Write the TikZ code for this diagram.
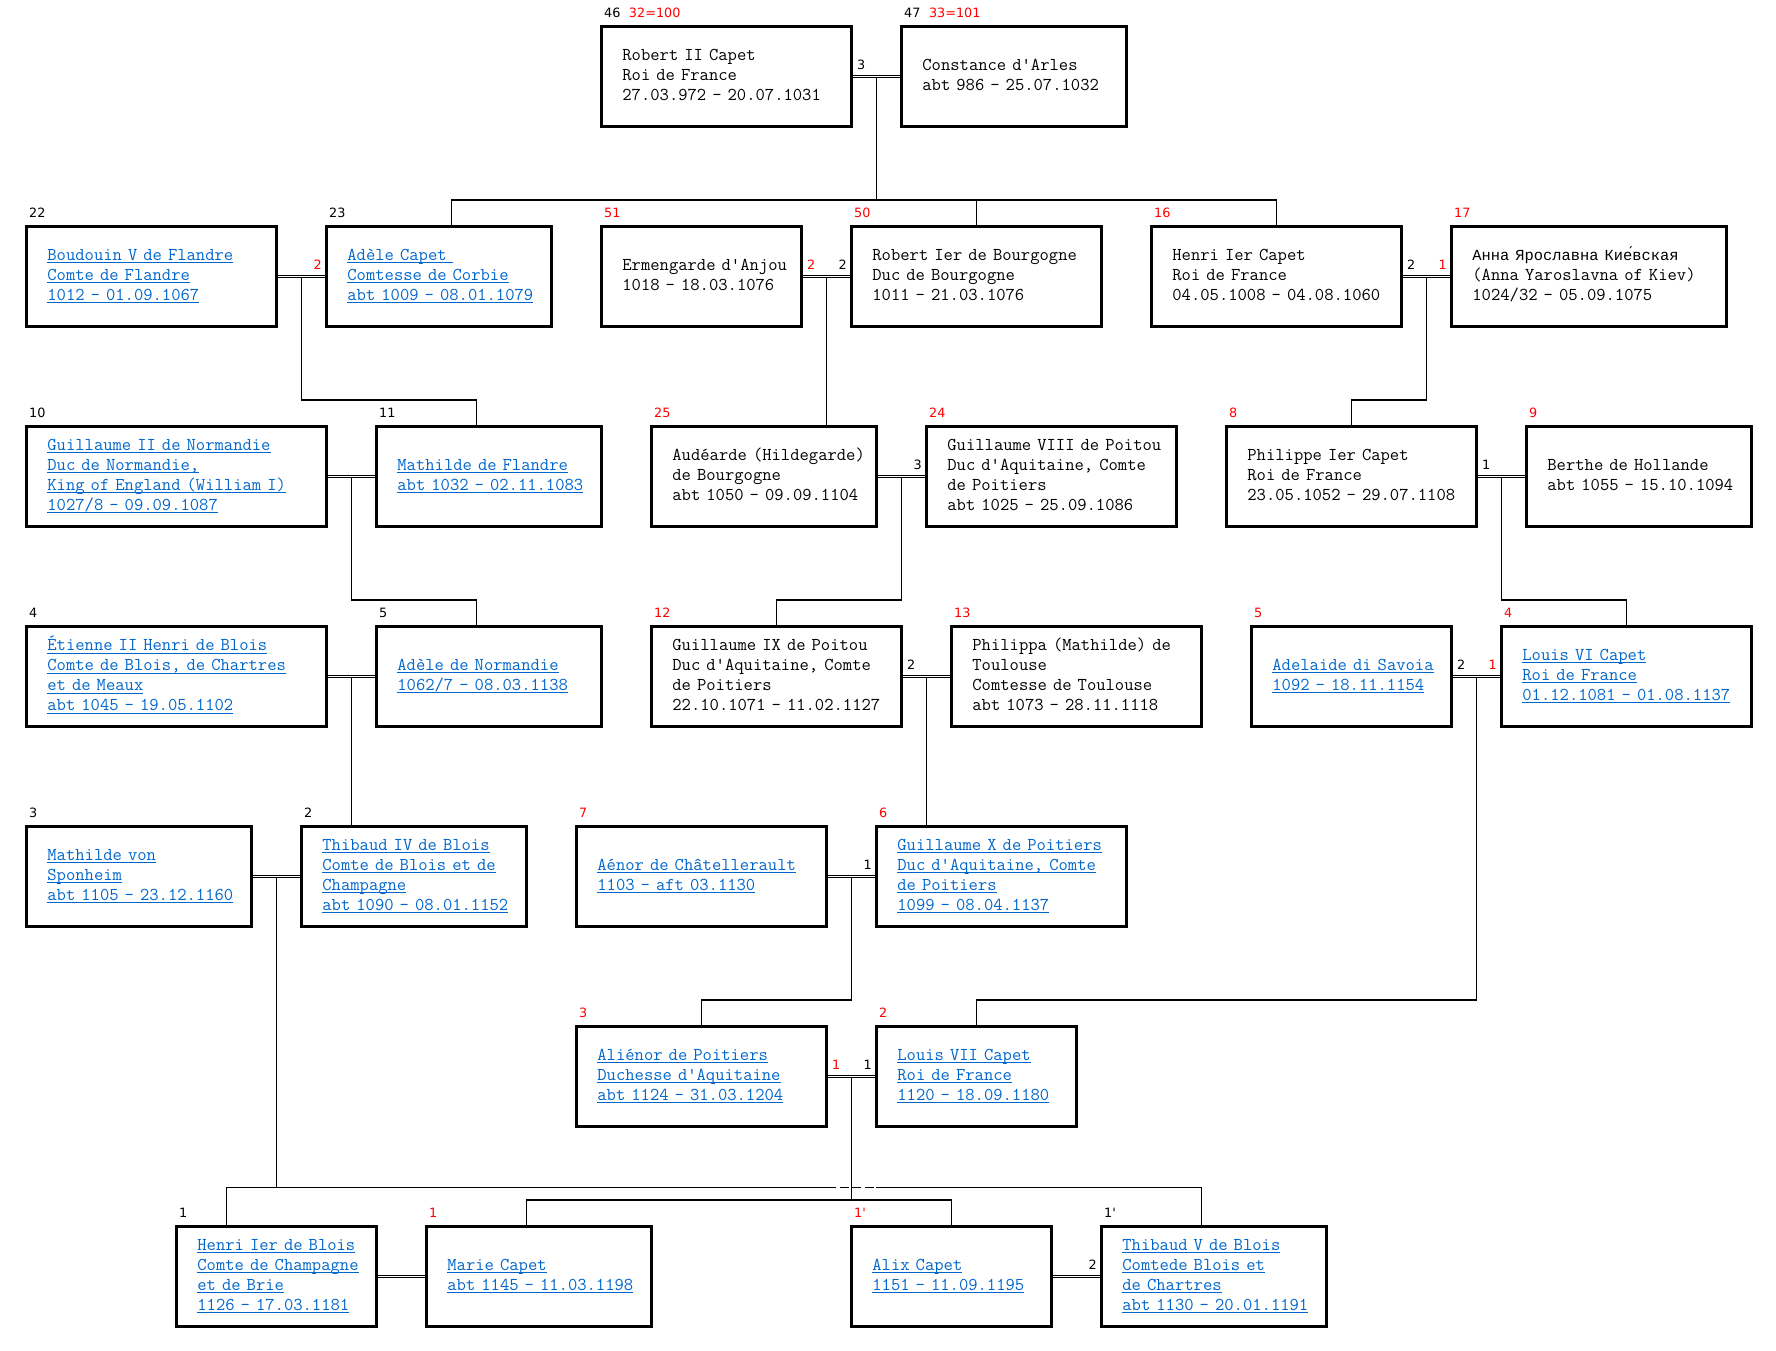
\documentclass[tikz,border=0pt]{standalone}
\usepackage{fontspec}
\setsansfont{DejaVu Sans}[Ligatures=TeXOff]
\newfontfamily\cyrmono{Liberation Mono}
\usepackage{xcolor}
\usetikzlibrary{calc,positioning}
\definecolor{linkblue}{HTML}{0066CC}
\definecolor{tagred}{HTML}{FF0000}
\newcommand{\linkline}[1]{\setbox0=\hbox{#1}\rlap{\rule[-2.8pt]{\wd0}{1pt}}\box0}
\newcommand{\names}[1]{\begin{tabular}{@{}l@{}}#1\end{tabular}}
\tikzset{
  personbox/.style={
    draw=black,
    line width=2.8pt,
    anchor=north west,
    minimum height=100pt,
    inner xsep=21pt,
    inner ysep=0pt,
    align=left,
    text=black,
    font=\ttfamily\fontsize{18.1}{20}\selectfont
  },
  linkbox/.style={personbox, text=linkblue},
  kin/.style={draw=black, line width=1.7pt},
  wed/.style={draw=black, line width=1.1pt, double, double distance=1.3pt},
  tag/.style={font=\sffamily\fontsize{12.8}{14}\selectfont, text=black, inner sep=0pt},
  redtag/.style={tag, text=tagred}
}

\begin{document}
\begin{tikzpicture}[x=1pt, y=-1pt]
  \useasboundingbox (0,0) rectangle (1776,1350);

  \node[personbox, text width=208pt] (robert2) at (600,25)
    {\names{Robert II Capet\\Roi de France\\27.03.972 - 20.07.1031}};
  \node[personbox, text width=183pt] (constance) at (900,25)
    {\names{Constance d'Arles\\abt 986 - 25.07.1032}};

  \node[linkbox, text width=208pt] (baudouin) at (25,225)
    {\names{\linkline{Boudouin V de Flandre}\\\linkline{Comte de Flandre}\\\linkline{1012 - 01.09.1067}}};
  \node[linkbox, text width=183pt] (adele) at (325,225)
    {\names{\linkline{Adèle Capet\ }\\\linkline{Comtesse de Corbie}\\\linkline{abt 1009 - 08.01.1079}}};
  \node[personbox, text width=158pt] (ermengarde) at (600,225)
    {\names{Ermengarde d'Anjou\\1018 - 18.03.1076}};
  \node[personbox, text width=208pt] (robert1) at (850,225)
    {\names{Robert Ier de Bourgogne\\Duc de Bourgogne\\1011 - 21.03.1076}};
  \node[personbox, text width=208pt] (henri1) at (1150,225)
    {\names{Henri Ier Capet\\Roi de France\\04.05.1008 - 04.08.1060}};
  \node[personbox, text width=233pt] (anna) at (1450,225)
    {\names{{\cyrmono\fontsize{15.4}{20}\selectfont Анна Ярославна Кие́вская}\\(Anna Yaroslavna of Kiev)\\1024/32 - 05.09.1075}};

  \node[linkbox, text width=258pt] (guillaume2) at (25,425)
    {\names{\linkline{Guillaume II de Normandie}\\\linkline{Duc de Normandie,}\\\linkline{King of England (William I)}\\\linkline{1027/8 - 09.09.1087}}};
  \node[linkbox, text width=183pt] (mathilde) at (375,425)
    {\names{\linkline{Mathilde de Flandre}\\\linkline{abt 1032 - 02.11.1083}}};
  \node[personbox, text width=183pt] (audearde) at (650,425)
    {\names{Audéarde (Hildegarde)\\de Bourgogne\\abt 1050 - 09.09.1104}};
  \node[personbox, text width=208pt] (guillaume8) at (925,425)
    {\names{Guillaume VIII de Poitou\\Duc d'Aquitaine, Comte\\de Poitiers\\abt 1025 - 25.09.1086}};
  \node[personbox, text width=208pt] (philippe1) at (1225,425)
    {\names{Philippe Ier Capet\\Roi de France\\23.05.1052 - 29.07.1108}};
  \node[personbox, text width=183pt] (berthe) at (1525,425)
    {\names{Berthe de Hollande\\abt 1055 - 15.10.1094}};

  \node[linkbox, text width=258pt] (etienne) at (25,625)
    {\names{\linkline{Étienne II Henri de Blois}\\\linkline{Comte de Blois, de Chartres}\\\linkline{et de Meaux}\\\linkline{abt 1045 - 19.05.1102}}};
  \node[linkbox, text width=183pt] (adelen) at (375,625)
    {\names{\linkline{Adèle de Normandie}\\\linkline{1062/7 - 08.03.1138}}};
  \node[personbox, text width=208pt] (guillaume9) at (650,625)
    {\names{Guillaume IX de Poitou\\Duc d'Aquitaine, Comte\\de Poitiers\\22.10.1071 - 11.02.1127}};
  \node[personbox, text width=208pt] (philippa) at (950,625)
    {\names{Philippa (Mathilde) de\\Toulouse\\Comtesse de Toulouse\\abt 1073 - 28.11.1118}};
  \node[linkbox, text width=158pt] (adelaide) at (1250,625)
    {\names{\linkline{Adelaide di Savoia}\\\linkline{1092 - 18.11.1154}}};
  \node[linkbox, text width=208pt] (louis6) at (1500,625)
    {\names{\linkline{Louis VI Capet}\\\linkline{Roi de France}\\\linkline{01.12.1081 - 01.08.1137}}};

  \node[linkbox, text width=183pt] (sponheim) at (25,825)
    {\names{\linkline{Mathilde von}\\\linkline{Sponheim}\\\linkline{abt 1105 - 23.12.1160}}};
  \node[linkbox, text width=183pt] (thibaud4) at (300,825)
    {\names{\linkline{Thibaud IV de Blois}\\\linkline{Comte de Blois et de}\\\linkline{Champagne}\\\linkline{abt 1090 - 08.01.1152}}};
  \node[linkbox, text width=208pt] (aenor) at (575,825)
    {\names{\linkline{Aénor de Châtellerault}\\\linkline{1103 - aft 03.1130}}};
  \node[linkbox, text width=208pt] (guillaume10) at (875,825)
    {\names{\linkline{Guillaume X de Poitiers}\\\linkline{Duc d'Aquitaine, Comte}\\\linkline{de Poitiers}\\\linkline{1099 - 08.04.1137}}};

  \node[linkbox, text width=208pt] (alienor) at (575,1025)
    {\names{\linkline{Aliénor de Poitiers}\\\linkline{Duchesse d'Aquitaine}\\\linkline{abt 1124 - 31.03.1204}}};
  \node[linkbox, text width=158pt] (louis7) at (875,1025)
    {\names{\linkline{Louis VII Capet}\\\linkline{Roi de France}\\\linkline{1120 - 18.09.1180}}};

  \node[linkbox, text width=158pt] (henriblois) at (175,1225)
    {\names{\linkline{Henri Ier de Blois}\\\linkline{Comte de Champagne}\\\linkline{et de Brie}\\\linkline{1126 - 17.03.1181}}};
  \node[linkbox, text width=183pt] (marie) at (425,1225)
    {\names{\linkline{Marie Capet}\\\linkline{abt 1145 - 11.03.1198}}};
  \node[linkbox, text width=158pt] (alix) at (850,1225)
    {\names{\linkline{Alix Capet}\\\linkline{1151 - 11.09.1195}}};
  \node[linkbox, text width=183pt] (thibaud5) at (1100,1225)
    {\names{\linkline{Thibaud V de Blois}\\\linkline{Comtede Blois et}\\\linkline{de Chartres}\\\linkline{abt 1130 - 20.01.1191}}};

  \coordinate (mRobert) at ($(robert2.east)!0.5!(constance.west)$);
  \coordinate (mBaudouin) at ($(baudouin.east)!0.5!(adele.west)$);
  \coordinate (mRobert1) at ($(ermengarde.east)!0.5!(robert1.west)$);
  \coordinate (mHenri) at ($(henri1.east)!0.5!(anna.west)$);
  \coordinate (mGuillaume2) at ($(guillaume2.east)!0.5!(mathilde.west)$);
  \coordinate (mGuillaume8) at ($(audearde.east)!0.5!(guillaume8.west)$);
  \coordinate (mPhilippe) at ($(philippe1.east)!0.5!(berthe.west)$);
  \coordinate (mEtienne) at ($(etienne.east)!0.5!(adelen.west)$);
  \coordinate (mGuillaume9) at ($(guillaume9.east)!0.5!(philippa.west)$);
  \coordinate (mLouis6) at ($(adelaide.east)!0.5!(louis6.west)$);
  \coordinate (mThibaud4) at ($(sponheim.east)!0.5!(thibaud4.west)$);
  \coordinate (mGuillaume10) at ($(aenor.east)!0.5!(guillaume10.west)$);
  \coordinate (mLouis7) at ($(alienor.east)!0.5!(louis7.west)$);
  \coordinate (busRobert) at ([yshift=25pt]robert1.north);
  \coordinate (busThibaud) at ([yshift=37.5pt]henriblois.north);
  \coordinate (gapL) at ($(mLouis7 |- busThibaud)+(-24,0)$);
  \coordinate (gapR) at ($(mLouis7 |- busThibaud)+(25,0)$);

  \draw[kin] (mRobert) -- (mRobert |- busRobert);
  \draw[kin] ([xshift=12.5pt]adele.north) |- (busRobert) -| (henri1.north);
  \draw[kin] (robert1.north) -- (busRobert);
  \draw[kin] (mBaudouin) |- ([xshift=-12.5pt,yshift=25pt]mathilde.north) -- ([xshift=-12.5pt]mathilde.north);
  \draw[kin] (mRobert1) -- (mRobert1 |- audearde.north);
  \draw[kin] (mHenri) |- ([yshift=25pt]philippe1.north) -- (philippe1.north);
  \draw[kin] (mGuillaume2) |- ([xshift=-12.5pt,yshift=25pt]adelen.north) -- ([xshift=-12.5pt]adelen.north);
  \draw[kin] (mGuillaume8) |- ([yshift=25pt]guillaume9.north) -- (guillaume9.north);
  \draw[kin] (mPhilippe) |- ([yshift=25pt]louis6.north) -- (louis6.north);
  \draw[kin] (mEtienne) -- (mEtienne |- thibaud4.north);
  \draw[kin] (mGuillaume9) -- (mGuillaume9 |- guillaume10.north);
  \draw[kin] (mLouis6) |- ([yshift=25pt]louis7.north) -- (louis7.north);
  \draw[kin] (mGuillaume10) |- ([yshift=25pt]alienor.north) -- (alienor.north);
  \draw[kin] (mThibaud4) -- (busThibaud);
  \draw[kin] ([xshift=-50pt]henriblois.north) |- (gapL);
  \draw[kin, dash pattern=on 9pt off 3.5pt] (gapL) -- (gapR);
  \draw[kin] (gapR) -| ([xshift=-12.5pt]thibaud5.north);
  \draw[kin] (mLouis7) -- ($(mLouis7 |- alix.north)+(0,-25)$);
  \draw[kin] ([xshift=-12.5pt]marie.north) |- ([yshift=25pt]alix.north) -- (alix.north);

  \draw[wed] (robert2) -- (constance);
  \draw[wed] (baudouin) -- (adele);
  \draw[wed] (ermengarde) -- (robert1);
  \draw[wed] (henri1) -- (anna);
  \draw[wed] (guillaume2) -- (mathilde);
  \draw[wed] (audearde) -- (guillaume8);
  \draw[wed] (philippe1) -- (berthe);
  \draw[wed] (etienne) -- (adelen);
  \draw[wed] (guillaume9) -- (philippa);
  \draw[wed] (adelaide) -- (louis6);
  \draw[wed] (sponheim) -- (thibaud4);
  \draw[wed] (aenor) -- (guillaume10);
  \draw[wed] (alienor) -- (louis7);
  \draw[wed] (henriblois) -- (marie);
  \draw[wed] (alix) -- (thibaud5);

  \node[tag, above right=7pt and 4pt of robert2.east] {3};
  \node[redtag, above left=7pt and 3pt of adele.west] {2};
  \node[redtag, above right=7pt and 4pt of ermengarde.east] {2};
  \node[tag, above left=7pt and 3pt of robert1.west] {2};
  \node[tag, above right=7pt and 4pt of henri1.east] {2};
  \node[redtag, above left=7pt and 3pt of anna.west] {1};
  \node[tag, above left=7pt and 3pt of guillaume8.west] {3};
  \node[tag, above right=7pt and 4pt of philippe1.east] {1};
  \node[tag, above right=7pt and 4pt of guillaume9.east] {2};
  \node[tag, above right=7pt and 4pt of adelaide.east] {2};
  \node[redtag, above left=7pt and 3pt of louis6.west] {1};
  \node[tag, above left=7pt and 3pt of guillaume10.west] {1};
  \node[redtag, above right=7pt and 4pt of alienor.east] {1};
  \node[tag, above left=7pt and 3pt of louis7.west] {1};
  \node[tag, above left=7pt and 3pt of thibaud5.west] {2};

  \node[tag, above right=7pt and 4pt of robert2.north west] {46\hspace{8.5pt}\textcolor{tagred}{32=100}};
  \node[tag, above right=7pt and 4pt of constance.north west] {47\hspace{8.5pt}\textcolor{tagred}{33=101}};
  \node[tag, above right=7pt and 4pt of baudouin.north west] {22};
  \node[tag, above right=7pt and 4pt of adele.north west] {23};
  \node[redtag, above right=7pt and 4pt of ermengarde.north west] {51};
  \node[redtag, above right=7pt and 4pt of robert1.north west] {50};
  \node[redtag, above right=7pt and 4pt of henri1.north west] {16};
  \node[redtag, above right=7pt and 4pt of anna.north west] {17};
  \node[tag, above right=7pt and 4pt of guillaume2.north west] {10};
  \node[tag, above right=7pt and 4pt of mathilde.north west] {11};
  \node[redtag, above right=7pt and 4pt of audearde.north west] {25};
  \node[redtag, above right=7pt and 4pt of guillaume8.north west] {24};
  \node[redtag, above right=7pt and 4pt of philippe1.north west] {8};
  \node[redtag, above right=7pt and 4pt of berthe.north west] {9};
  \node[tag, above right=7pt and 4pt of etienne.north west] {4};
  \node[tag, above right=7pt and 4pt of adelen.north west] {5};
  \node[redtag, above right=7pt and 4pt of guillaume9.north west] {12};
  \node[redtag, above right=7pt and 4pt of philippa.north west] {13};
  \node[redtag, above right=7pt and 4pt of adelaide.north west] {5};
  \node[redtag, above right=7pt and 4pt of louis6.north west] {4};
  \node[tag, above right=7pt and 4pt of sponheim.north west] {3};
  \node[tag, above right=7pt and 4pt of thibaud4.north west] {2};
  \node[redtag, above right=7pt and 4pt of aenor.north west] {7};
  \node[redtag, above right=7pt and 4pt of guillaume10.north west] {6};
  \node[redtag, above right=7pt and 4pt of alienor.north west] {3};
  \node[redtag, above right=7pt and 4pt of louis7.north west] {2};
  \node[tag, above right=7pt and 4pt of henriblois.north west] {1};
  \node[redtag, above right=7pt and 4pt of marie.north west] {1};
  \node[redtag, above right=7pt and 4pt of alix.north west] {1'};
  \node[tag, above right=7pt and 4pt of thibaud5.north west] {1'};
\end{tikzpicture}
\end{document}
